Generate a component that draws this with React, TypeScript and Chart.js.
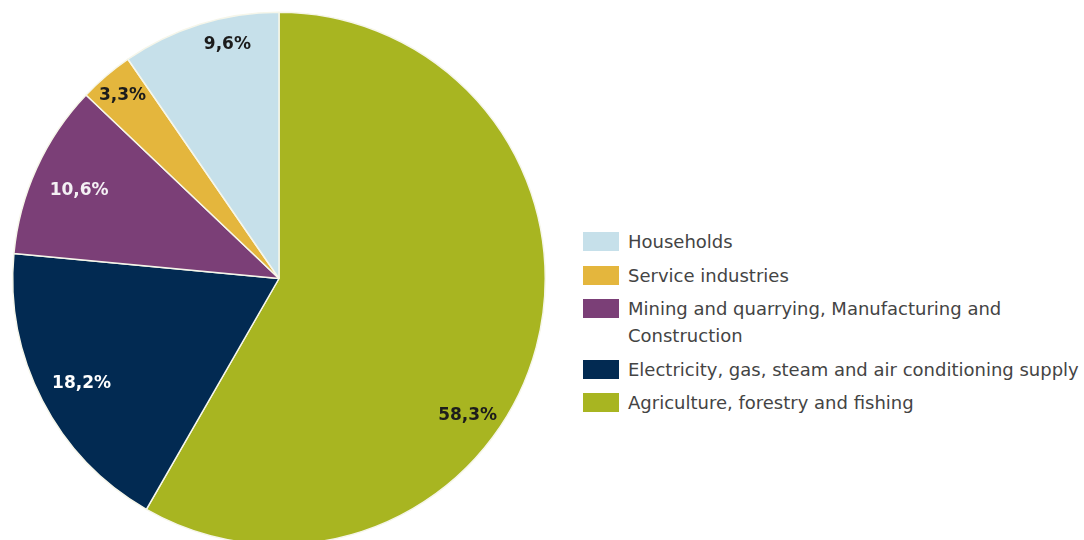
import React, { useEffect, useRef } from "react";
import { Chart, registerables } from "chart.js";

Chart.register(...registerables);

const categories = [
  "Agriculture, forestry and fishing",
  "Electricity, gas, steam and air conditioning supply",
  "Mining and quarrying, Manufacturing and Construction",
  "Service industries",
  "Households",
];
const shares = [58.3, 18.2, 10.6, 3.3, 9.6];
const valueLabels = ["58,3%", "18,2%", "10,6%", "3,3%", "9,6%"];
const colors = ["#a8b521", "#022a52", "#7b3f77", "#e4b63d", "#c6e0ea"];
const labelColors = ["#1c1c1c", "#ffffff", "#f4f0f4", "#1c1c1c", "#1c1c1c"];

// where each label sits inside its slice: fraction of the slice's sweep, and of the radius
const labelSweep = [0.6, 0.49, 0.48, 0.5, 0.64];
const labelRadius = [0.875, 0.84, 0.82, 0.905, 0.9];

const sliceLabels = {
  id: "sliceLabels",
  afterDatasetsDraw(chart: any) {
    const ctx = chart.ctx;
    const meta = chart.getDatasetMeta(0);
    ctx.save();
    ctx.font = "bold 17px 'DejaVu Sans', Verdana, sans-serif";
    ctx.textAlign = "center";
    ctx.textBaseline = "middle";
    meta.data.forEach((arc: any, i: number) => {
      const p = arc.getProps(["x", "y", "startAngle", "endAngle", "outerRadius"], true);
      const a = p.startAngle + (p.endAngle - p.startAngle) * labelSweep[i];
      const r = p.outerRadius * labelRadius[i];
      ctx.fillStyle = labelColors[i];
      ctx.fillText(valueLabels[i], p.x + Math.cos(a) * r, p.y + Math.sin(a) * r);
    });
    ctx.restore();
  },
};

export default function App() {
  const ref = useRef<HTMLCanvasElement | null>(null);

  useEffect(() => {
    if (!ref.current) return;
    const chart = new Chart(ref.current, {
      type: "pie",
      data: {
        labels: categories,
        datasets: [
          {
            data: shares,
            backgroundColor: colors,
            borderColor: "#f6f6ea",
            borderWidth: 1.5,
          },
        ],
      },
      options: {
        animation: false,
        responsive: false,
        devicePixelRatio: 1,
        layout: { padding: { left: 12, right: 14, top: 11.5, bottom: 14.5 } },
        plugins: {
          legend: { display: false },
          tooltip: { enabled: false },
        },
      },
      plugins: [sliceLabels],
    });
    return () => chart.destroy();
  }, []);

  const legendItems = categories
    .map((c, i) => ({ c, color: colors[i] }))
    .reverse();

  return (
    <div
      style={{
        position: "fixed",
        left: 0,
        top: 0,
        width: 1084,
        height: 540,
        overflow: "hidden",
        background: "#ffffff",
      }}
    >
      <canvas
        ref={ref}
        width={560}
        height={560}
        style={{ position: "absolute", left: 0, top: 0, width: 560, height: 560 }}
      />
      <div
        style={{
          position: "absolute",
          left: 583,
          top: 228,
          width: 501,
          fontFamily: "'DejaVu Sans', Verdana, sans-serif",
          fontSize: 18,
          lineHeight: "27px",
          color: "#444444",
        }}
      >
        {legendItems.map((it) => (
          <div
            key={it.c}
            style={{ display: "flex", alignItems: "flex-start", marginBottom: 6.5 }}
          >
            <div
              style={{
                width: 36,
                height: 19,
                marginTop: 4,
                background: it.color,
                flex: "0 0 auto",
              }}
            />
            <div style={{ marginLeft: 9, width: 456 }}>{it.c}</div>
          </div>
        ))}
      </div>
    </div>
  );
}
